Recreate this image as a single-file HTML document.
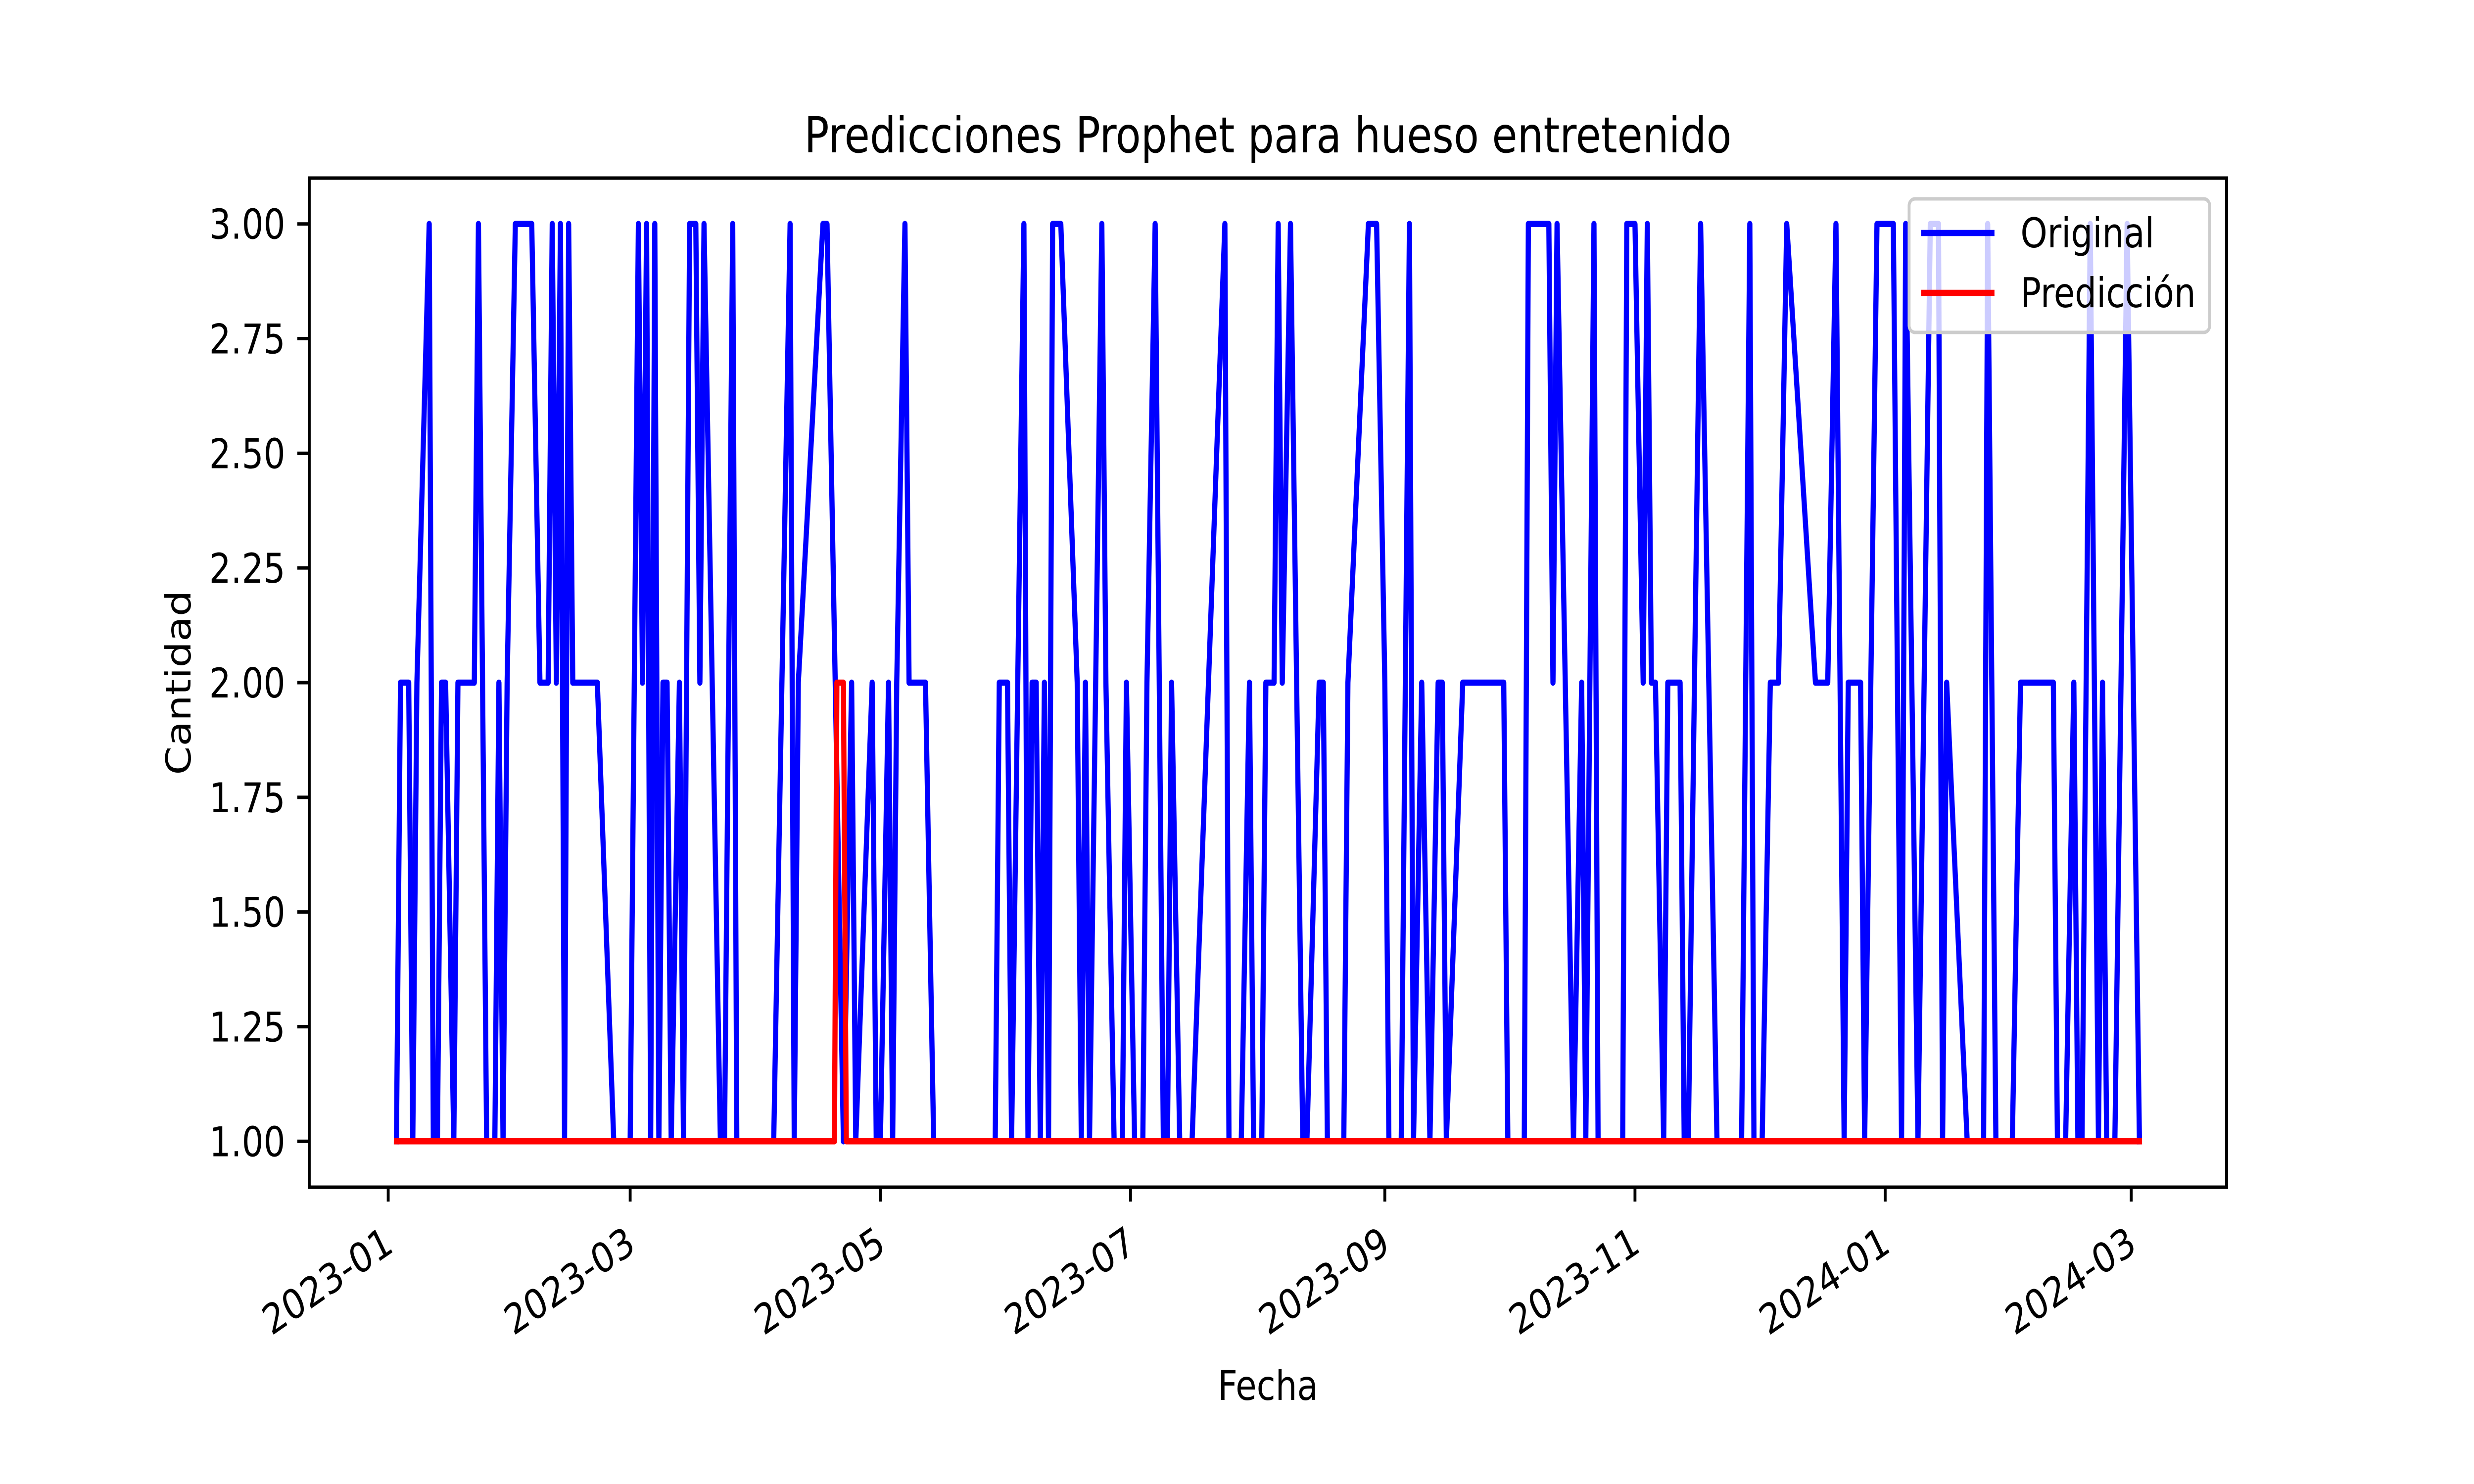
<!DOCTYPE html>
<html><head><meta charset="utf-8"><style>
html,body{margin:0;padding:0;background:#fff;width:100%;height:100%;overflow:hidden;}
svg{display:block;position:absolute;left:0;top:0;width:100vw;height:100vh;font-family:"DejaVu Sans","Liberation Sans",sans-serif;}
</style></head><body>
<svg id="chart" viewBox="0 0 6000 3000" preserveAspectRatio="none" xmlns="http://www.w3.org/2000/svg">
<rect width="6000" height="3000" fill="#fff"/>
<text x="3075" y="308" font-size="100" text-anchor="middle">Predicciones Prophet para hueso entretenido</text>
<g id="ticks"></g>
<g id="series"></g>
<rect x="750" y="360" width="4650" height="2040" fill="none" stroke="#000" stroke-width="7"/>
<text x="3075" y="2830" font-size="83" text-anchor="middle">Fecha</text>
<text transform="translate(462,1380) rotate(-90)" font-size="83" text-anchor="middle">Cantidad</text>
<g>
<rect x="4630" y="402" width="729" height="270" rx="14" fill="#fff" fill-opacity="0.8" stroke="#ccc" stroke-width="7"/>
<line x1="4659" y1="471" x2="4837" y2="471" stroke="#0000ff" stroke-width="12.5"/>
<text x="4900" y="500" font-size="83">Original</text>
<line x1="4659" y1="592" x2="4837" y2="592" stroke="#ff0000" stroke-width="12.5"/>
<text x="4900" y="621" font-size="83">Predicción</text>
</g>
</svg>
<script>
// day offsets from 2023-01-01
const origDays = [2,3,5,6,7,10,11,12,13,14,16,17,21,22,24,26,27,28,29,31,35,37,39,40,41,42,43,44,45,51,55,59,61,62,63,64,65,66,67,68,69,71,72,73.5,75,76,77,81,82,84,85,94,98,99,100,106,107,109,111,113,114,118,119,120,122,123,124,126,127,131,133,148,149,151,152,155,156,157,158,159,160,161,162,164,168,169,170,171,174,175,177,179,180,182,184,185,187,189,190,191,193,196,204,205,208,210,211,213,214,216,217,218,220,223,224,227,228,229,233,234,239,241,243,244,247,249,250,252,254,256,257,258,262,272,273,277,278,283,284,285,289,291,292,294,295,301,302,304,306,307,308,309,311,312,315,316,317,320,324,330,332,333,335,337,339,341,348,351,353,355,356,359,360,363,367,369,370,373,376,378,379,380,385,389,390,392,396,398,406,407,409,411,412,413,415,417,418,419,421,424,427];
const origValues = [1,2,2,1,2,3,1,1,2,2,1,2,2,3,1,1,2,1,2,3,3,2,2,3,2,3,1,3,2,2,1,1,3,2,3,1,3,1,2,2,1,2,1,3,3,2,3,1,1,3,1,1,3,1,2,3,3,2,1,2,1,2,1,1,2,1,2,3,2,2,1,1,2,2,1,3,1,2,2,1,2,1,3,3,2,1,2,1,3,2,1,1,2,1,1,2,3,1,1,2,1,1,3,1,1,2,1,1,2,2,3,2,3,1,1,2,2,1,1,2,3,3,2,1,1,3,1,2,1,2,2,1,2,2,1,1,3,3,2,3,1,2,1,3,1,1,3,3,2,3,2,2,1,2,2,1,1,3,1,1,3,1,1,2,2,3,2,2,3,1,2,2,1,3,3,1,3,1,3,3,1,2,1,1,3,1,1,2,2,1,1,2,1,1,3,1,2,1,1,3,1];
const predDays = [2,108.8,109.4,111,111.7,427];
const predValues = [1,1,2,2,1,1];
const yTickValues = [1.00,1.25,1.50,1.75,2.00,2.25,2.50,2.75,3.00];
const xTickDays = [0,59,120,181,243,304,365,425];
const xTickLabels = ["2023-01","2023-03","2023-05","2023-07","2023-09","2023-11","2024-01","2024-03"];

const NS = "http://www.w3.org/2000/svg";
const L=750,R=5400,T=360,B=2400;
const dMin=2,dMax=427,pad=(dMax-dMin)*0.05;
const xS = d => L + (d-(dMin-pad))/((dMax+pad)-(dMin-pad))*(R-L);
const yS = v => B - (v-0.9)/2.2*(B-T);

const ticks=document.getElementById('ticks');
yTickValues.forEach(v=>{
  const y=yS(v);
  const ln=document.createElementNS(NS,'line');
  ln.setAttribute('x1',L-29);ln.setAttribute('x2',L);ln.setAttribute('y1',y);ln.setAttribute('y2',y);
  ln.setAttribute('stroke','#000');ln.setAttribute('stroke-width','7');
  
  
  ticks.appendChild(ln);
  const t=document.createElementNS(NS,'text');
  t.setAttribute('x',L-58);t.setAttribute('y',y+30);t.setAttribute('font-size','83');t.setAttribute('text-anchor','end');
  t.textContent=v.toFixed(2);
  
  
  ticks.appendChild(t);
});
xTickDays.forEach((d,i)=>{
  const x=xS(d);
  const ln=document.createElementNS(NS,'line');
  ln.setAttribute('x1',x);ln.setAttribute('x2',x);ln.setAttribute('y1',B);ln.setAttribute('y2',B+29);
  ln.setAttribute('stroke','#000');ln.setAttribute('stroke-width','7');
  
  
  ticks.appendChild(ln);
  const t=document.createElementNS(NS,'text');
  t.setAttribute('transform','translate('+(x-14)+',2474) rotate(-30)');
  t.setAttribute('x',0);t.setAttribute('y',62);t.setAttribute('font-size','83');t.setAttribute('text-anchor','end');
  t.textContent=xTickLabels[i];
  
  
  ticks.appendChild(t);
});

const series=document.getElementById('series');
function addLine(days,vals,color,name){
  const p=document.createElementNS(NS,'polyline');
  p.setAttribute('points',days.map((d,i)=>xS(d).toFixed(1)+','+yS(vals[i]).toFixed(1)).join(' '));
  p.setAttribute('fill','none');p.setAttribute('stroke',color);p.setAttribute('stroke-width','12.5');
  p.setAttribute('stroke-linejoin','round');p.setAttribute('stroke-linecap','square');
  
  
  series.appendChild(p);
}
addLine(origDays,origValues,'#0000ff','original-line');
addLine(predDays,predValues,'#ff0000','prediccion-line');
</script>
</body></html>
